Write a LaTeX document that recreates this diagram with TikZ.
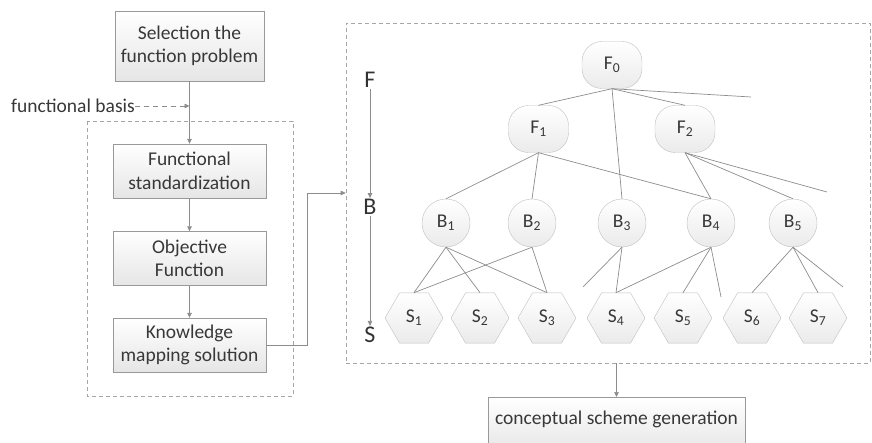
\documentclass[tikz,border=0pt]{standalone}
\usepackage{fontspec}
\setmainfont{Carlito}
\usepackage{tikz}
\usetikzlibrary{shapes,arrows.meta,positioning,fit}

\begin{document}
\begin{tikzpicture}[x=1pt,y=-1pt]
	\tikzstyle{Box}		= [draw=black!40, top color=white, bottom color=black!10, text=black!78, align=center, font=\fontsize{19.5}{23.5}\selectfont, inner sep=2pt]
	\tikzstyle{Group}	= [draw=black!35, dash pattern=on 4pt off 3pt, line width=0.6pt]
	\tikzstyle{Fnode}	= [draw=black!25, rounded corners=20pt, top color=white, bottom color=black!8, minimum width=60pt, minimum height=47pt, text=black!78, font=\fontsize{19.5}{19.5}\selectfont]
	\tikzstyle{Bnode}	= [Fnode, circle, rounded corners=0pt, minimum size=48pt, inner sep=0pt]
	\tikzstyle{Snode}	= [Fnode, regular polygon, regular polygon sides=6, rounded corners=0pt, minimum size=58pt, inner sep=0pt]
	\tikzstyle{Level}	= [text=black!80, font=\fontsize{24}{24}\selectfont, inner sep=1pt]
	\tikzstyle{Edge}	= [draw=black!45, line width=0.7pt]
	\tikzstyle{Arr}		= [Edge, -{Triangle[length=5pt,width=4.5pt]}]

	\useasboundingbox (0,0) rectangle (872,443);

	% left column
	\node (sel) at (189.5,46) [Box, minimum width=149pt, minimum height=70pt] {Selection the\\function problem};
	\node (std) at (189.5,171) [Box, minimum width=153pt, minimum height=54pt] {Functional\\standardization};
	\node (obj) at (189.5,258.5) [Box, minimum width=153pt, minimum height=54pt] {Objective\\Function};
	\node (kno) at (189.5,345) [Box, minimum width=153pt, minimum height=54pt] {Knowledge\\mapping solution};
	\node (basis) at (135,106) [anchor=east, text=black!78, font=\fontsize{19.5}{19.5}\selectfont, inner sep=0pt] {functional basis};
	\coordinate (join) at (189.5,106);

	\draw [Group] (87,121) rectangle (293,396);
	\draw [Arr] (sel) -- (std);
	\draw [Arr, dash pattern=on 5pt off 4pt] (basis.east) -- (join);
	\draw [Arr] (std) -- (obj);
	\draw [Arr] (obj) -- (kno);

	% tree
	\node (tree) at (608,193) [Group, minimum width=524pt, minimum height=340pt] {};
	\draw [Arr] (kno.east) -- ++(41,0) |- (tree.west);

	\node (lF) at (370,80) [Level] {F};
	\node (lB) at (370,207) [Level] {B};
	\node (lS) at (370,335) [Level] {S};
	\draw [Arr] (lF) -- (lB);
	\draw [Arr] (lB) -- (lS);

	\node (F0) at (612,65) [Fnode] {F\textsubscript{0}};
	\node (F1) at (538.5,129) [Fnode] {F\textsubscript{1}};
	\node (F2) at (685,129) [Fnode] {F\textsubscript{2}};

	\foreach \i/\x in {1/446, 2/532, 3/622, 4/711, 5/793}
		\node (B\i) at (\x,223) [Bnode] {B\textsubscript{\i}};

	\foreach \i/\x in {1/414, 2/480, 3/547, 4/616, 5/683, 6/752, 7/818}
		\node (S\i) at (\x,318) [Snode] {S\textsubscript{\i}};

	\coordinate (d1) at (751,97);
	\coordinate (d2) at (827,192);
	\coordinate (d3) at (583,287);
	\coordinate (d4) at (721,297);
	\coordinate (d5) at (843,287);

	\foreach \a/\b in {F0/F1, F0/F2, F0/B3, F1/B1, F1/B2, F1/B4, F2/B4, F2/B5,
			B1/S1, B1/S2, B1/S3, B2/S1, B2/S3, B3/S4, B4/S4, B4/S5, B5/S6, B5/S7}
		\draw [Edge] (\a.south) -- (\b.north);
	\foreach \a/\b in {F0/d1, F2/d2, B3/d3, B4/d4, B5/d5}
		\draw [Edge] (\a.south) -- (\b);

	% result
	\node (gen) at (616.5,397) [Box, anchor=north, minimum width=257pt, minimum height=56pt, text depth=14pt, font=\fontsize{19.5}{19.5}\selectfont] {conceptual scheme generation};
	\draw [Arr] (tree.south -| gen.north) -- (gen.north);
\end{tikzpicture}
\end{document}
